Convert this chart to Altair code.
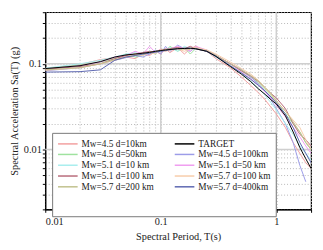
import altair as alt
import pandas as pd

periods = [0.01, 0.02, 0.03, 0.04, 0.05, 0.06, 0.07, 0.08, 0.09, 0.1, 0.11, 0.12, 0.14, 0.16, 0.18,
           0.2, 0.25, 0.3, 0.4, 0.5, 0.6, 0.7, 0.8, 0.9, 1.0, 1.2, 1.4, 1.6, 1.8, 2.0]

s_45_10 = [0.088, 0.098, 0.112, 0.118, 0.12, 0.115, 0.13, 0.125, 0.14, 0.13, 0.15, 0.135, 0.155, 0.13, 0.15,
           0.16, 0.14, 0.115, 0.09, 0.07, 0.056, 0.046, 0.038, 0.031, 0.026, 0.018, 0.012, 0.009, 0.007, 0.006]
s_45_50 = [0.086, 0.097, 0.105, 0.115, 0.13, 0.12, 0.125, 0.14, 0.13, 0.15, 0.14, 0.16, 0.14, 0.155, 0.13,
           0.15, 0.145, 0.125, 0.1, 0.082, 0.07, 0.06, 0.05, 0.043, 0.035, 0.026, 0.02, 0.016, 0.012, 0.01]
s_45_100 = [0.083, 0.09, 0.1, 0.11, 0.118, 0.125, 0.12, 0.13, 0.145, 0.13, 0.16, 0.14, 0.165, 0.15, 0.14,
            0.155, 0.14, 0.12, 0.1, 0.085, 0.07, 0.058, 0.048, 0.038, 0.03, 0.02, 0.012, 0.0065, 0.0042, None]
s_51_10 = [0.089, 0.1, 0.11, 0.12, 0.13, 0.135, 0.125, 0.14, 0.13, 0.15, 0.145, 0.155, 0.14, 0.16, 0.15,
           0.15, 0.14, 0.12, 0.095, 0.078, 0.063, 0.052, 0.043, 0.035, 0.029, 0.02, 0.015, 0.011, 0.009, 0.0075]
s_51_50 = [0.085, 0.095, 0.105, 0.12, 0.125, 0.14, 0.13, 0.16, 0.135, 0.15, 0.14, 0.15, 0.16, 0.15, 0.14,
           0.16, 0.145, 0.125, 0.1, 0.08, 0.067, 0.056, 0.047, 0.04, 0.033, 0.024, 0.018, 0.014, 0.011, 0.009]
s_51_100 = [0.086, 0.093, 0.1, 0.115, 0.125, 0.13, 0.135, 0.14, 0.138, 0.145, 0.148, 0.15, 0.155, 0.15, 0.16,
            0.15, 0.14, 0.125, 0.1, 0.083, 0.072, 0.062, 0.052, 0.045, 0.04, 0.03, 0.02, 0.015, 0.013, 0.011]
s_57_100 = [0.084, 0.09, 0.1, 0.11, 0.12, 0.13, 0.125, 0.135, 0.13, 0.15, 0.14, 0.145, 0.15, 0.14, 0.15,
            0.155, 0.145, 0.13, 0.105, 0.088, 0.076, 0.064, 0.052, 0.044, 0.036, 0.028, 0.022, 0.018, 0.013, 0.01]
s_57_200 = [0.085, 0.09, 0.1, 0.112, 0.12, 0.125, 0.13, 0.135, 0.14, 0.142, 0.145, 0.148, 0.15, 0.148, 0.15,
            0.15, 0.142, 0.125, 0.1, 0.085, 0.073, 0.063, 0.053, 0.045, 0.037, 0.028, 0.021, 0.016, 0.012, 0.01]
s_57_400 = [0.08, 0.081, 0.085, 0.11, 0.12, 0.125, 0.13, 0.133, 0.137, 0.14, 0.143, 0.146, 0.15, 0.152, 0.152,
            0.15, 0.14, 0.123, 0.095, 0.078, 0.066, 0.056, 0.048, 0.041, 0.035, 0.026, 0.018, 0.012, 0.009, 0.007]
target = [0.088, 0.095, 0.106, 0.12, 0.127, 0.13, 0.133, 0.136, 0.14, 0.143, 0.145, 0.147, 0.15, 0.151, 0.152,
          0.15, 0.14, 0.122, 0.093, 0.0755, 0.062, 0.051, 0.044, 0.038, 0.034, 0.0247, 0.016, 0.0105, 0.0078, 0.006]

# legend order: left column first, then right column
names = ["Mw=4.5 d=10km", "Mw=4.5 d=50km", "Mw=5.1 d=10 km", "Mw=5.1 d=100 km", "Mw=5.7 d=200 km",
         "TARGET", "Mw=4.5 d=100km", "Mw=5.1 d=50 km", "Mw=5.7 d=100 km", "Mw=5.7 d=400km"]
colors = ["#f2a0a0", "#9fe29f", "#a8eeee", "#b86a7a", "#c0c08c",
          "#000000", "#9c9ce8", "#f09cf0", "#f7ccaa", "#5c66b0"]
series_data = {
    "Mw=4.5 d=10km": s_45_10, "Mw=4.5 d=50km": s_45_50, "Mw=4.5 d=100km": s_45_100,
    "Mw=5.1 d=10 km": s_51_10, "Mw=5.1 d=50 km": s_51_50, "Mw=5.1 d=100 km": s_51_100,
    "Mw=5.7 d=100 km": s_57_100, "Mw=5.7 d=200 km": s_57_200, "Mw=5.7 d=400km": s_57_400,
    "TARGET": target,
}

rows = []
for order, (name, vals) in enumerate(series_data.items()):
    for p, v in zip(periods, vals):
        if v is not None:
            rows.append({"T": p, "Sa": v, "series": name, "ord": order})
df = pd.DataFrame(rows)

x_ticks = [0.01, 0.02, 0.03, 0.04, 0.05, 0.06, 0.07, 0.08, 0.09, 0.1, 0.2, 0.3, 0.4, 0.5, 0.6, 0.7, 0.8, 0.9, 1, 2]
y_ticks = [0.002, 0.003, 0.004, 0.005, 0.006, 0.007, 0.008, 0.009, 0.01, 0.02, 0.03, 0.04, 0.05, 0.06, 0.07,
           0.08, 0.09, 0.1, 0.2, 0.3, 0.4]
x_major = [0.1, 1]
y_major = [0.01, 0.1]

FONT = "Liberation Serif"
xscale = alt.Scale(type="log", domain=[0.01, 2], nice=False)
yscale = alt.Scale(type="log", domain=[0.002, 0.4], nice=False)

xgrid = alt.Chart(pd.DataFrame({"T": x_major})).mark_rule(color="#cfcfcf", strokeWidth=1.5).encode(
    x=alt.X("T:Q", scale=xscale))
ygrid = alt.Chart(pd.DataFrame({"Sa": y_major})).mark_rule(color="#cfcfcf", strokeWidth=1.5).encode(
    y=alt.Y("Sa:Q", scale=yscale))

lines = alt.Chart(df).mark_line(strokeWidth=1, clip=True).encode(
    x=alt.X("T:Q", scale=xscale, title="Spectral Period, T(s)",
            axis=alt.Axis(values=x_ticks, labelExpr="indexof([0.01,0.1,1], datum.value) >= 0 ? format(datum.value, '~g') : ''",
                          grid=True, gridDash=[1, 2], gridColor="#b8b8b8", tickSize=3,
                          labelPadding=4, titlePadding=5)),
    y=alt.Y("Sa:Q", scale=yscale, title="Spectral Acceleration Sa(T) (g)",
            axis=alt.Axis(values=y_ticks, labelExpr="indexof([0.01,0.1], datum.value) >= 0 ? format(datum.value, '~g') : ''",
                          grid=True, gridDash=[1, 2], gridColor="#b8b8b8", tickSize=3,
                          labelPadding=1, titlePadding=4)),
    color=alt.Color("series:N", scale=alt.Scale(domain=names, range=colors),
                    legend=alt.Legend(orient="none", legendX=7, legendY=123, columns=2, direction="vertical",
                                      symbolType="M-2,0H2", symbolSize=100, symbolStrokeWidth=1.5,
                                      symbolOffset=5,
                                      labelFont=FONT, labelFontSize=9.5, labelColor="#222",
                                      labelOffset=8, rowPadding=0, columnPadding=18, padding=5,
                                      strokeColor="#777", fillColor="white", title=" ",
                                      titleOrient="bottom", titleFontSize=12, titlePadding=9)),
    strokeWidth=alt.condition("datum.series == 'TARGET'", alt.value(1.6), alt.value(1.0)),
    order=alt.Order("ord:Q"),
    detail="series:N",
)

chart = alt.layer(xgrid, ygrid, lines).properties(
    width=271, height=201, padding={"left": 1, "top": 1, "right": 3, "bottom": 0}
).configure_axis(
    domainColor="#000", domainWidth=1.2, tickColor="#000",
    labelFont=FONT, labelFontSize=10.5, labelColor="#222",
    titleFont=FONT, titleFontSize=10.5, titleFontWeight="normal", titleColor="#222",
).configure_view(stroke="#000", strokeWidth=1.2)

chart.save("out.html", embed_options={"renderer": "svg", "actions": False})
